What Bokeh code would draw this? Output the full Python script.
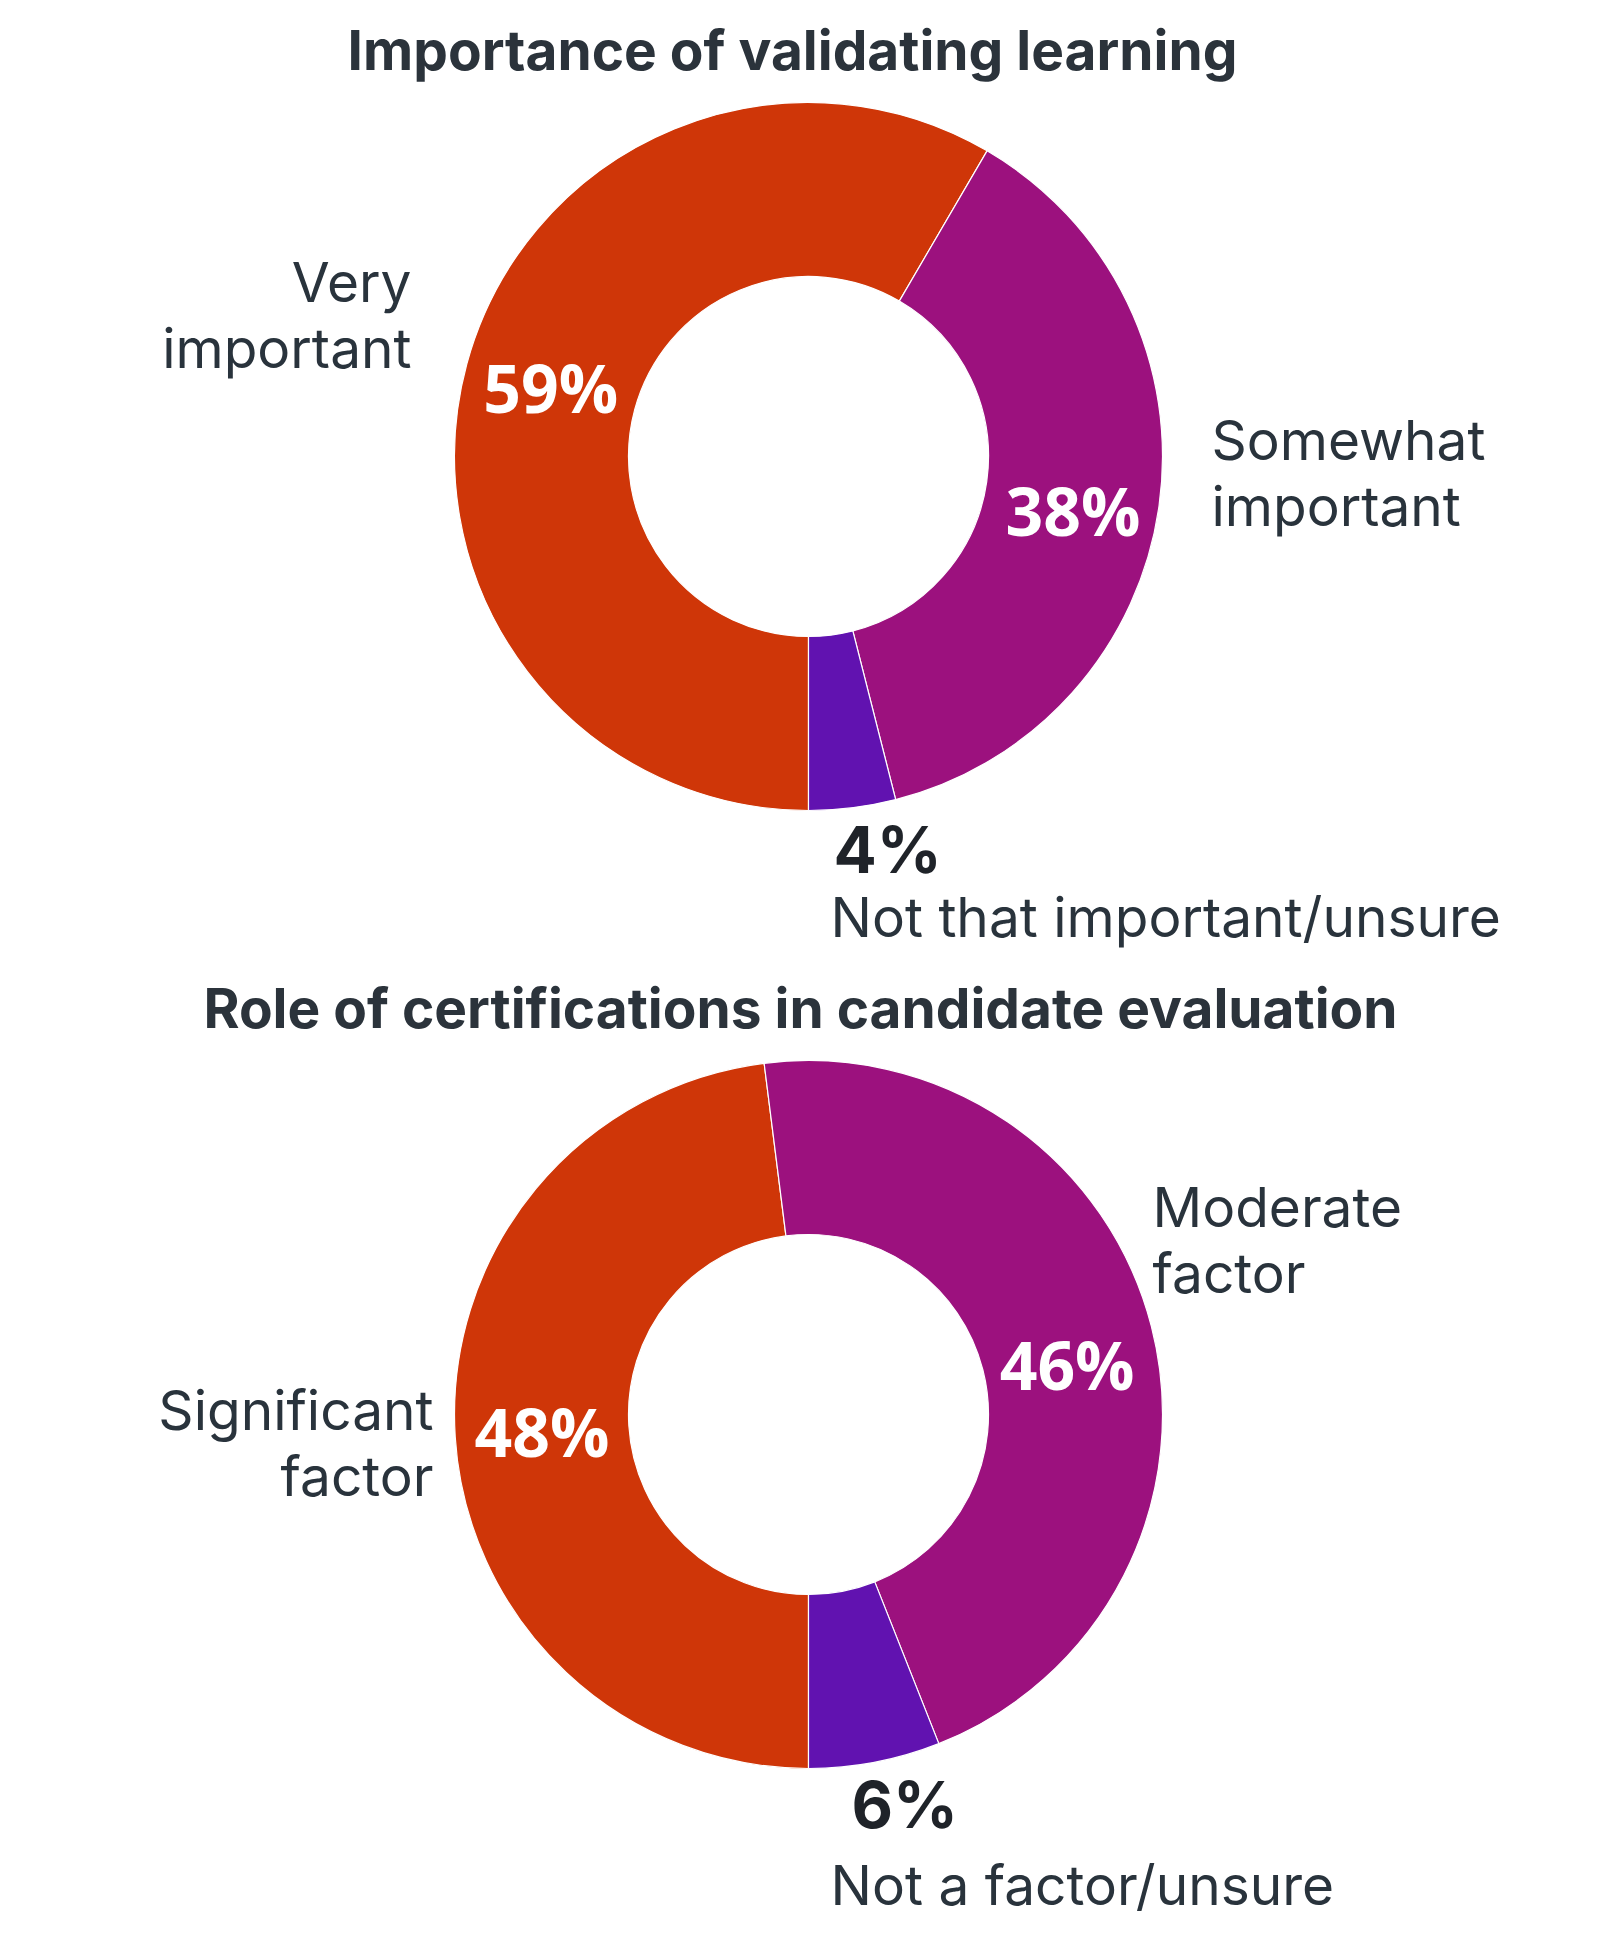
import math
from bokeh.plotting import figure
from bokeh.models import Range1d, ColumnDataSource
from bokeh.core.properties import value
from bokeh.embed import file_html
from bokeh.resources import INLINE

# ---------------- data ----------------
title_1 = "Importance of validating learning"
categories_1 = ["Very important", "Somewhat important", "Not that important/unsure"]
values_1 = [59, 38, 4]

title_2 = "Role of certifications in candidate evaluation"
categories_2 = ["Significant factor", "Moderate factor", "Not a factor/unsure"]
values_2 = [48, 46, 6]

colors = ["#CF3608", "#9C117E", "#6112B0"]

# ---------------- layout ----------------
W, H = 1612, 1951
CX = 808
CY_1, CY_2 = 456, 1414          # screen y of donut centres
R_IN, R_OUT = 180, 354
TITLE_Y = [49, 1007]            # baselines (screen)
TITLE_X = [792, 800]
LINE_H = 66
LABEL_FONT = "Inter"
TEXT_COLOR = "#29333C"
DY = -21                         # baseline correction

# per-category label anchors (screen coords): (x, first baseline, align)
label_anchor_1 = [(411, 302 + DY, "right"), (1211, 460 + DY, "left"), (830, 937 + DY, "left")]
label_anchor_2 = [(433, 1430 + DY, "right"), (1152, 1227 + DY, "left"), (830, 1905 + DY, "left")]
small_pct_anchor_1 = (833, 870 + DY)
small_pct_anchor_2 = (851, 1825 + DY)
inner_label_nudge = [0, 16]       # screen-y nudge for in-wedge labels

p = figure(width=W, height=H, x_range=Range1d(0, W), y_range=Range1d(0, H),
           output_backend="svg", toolbar_location=None, min_border=0)
p.axis.visible = False
p.grid.visible = False
p.outline_line_color = None
p.background_fill_color = "white"
p.border_fill_color = "white"


def sy(y):
    return H - y


def donut(vals, cats, cy_screen, anchors, small_anchor):
    total = float(sum(vals))
    cy = sy(cy_screen)
    starts, ends, mids = [], [], []
    acc = 0.0
    for v in vals:
        t0 = acc / total * 2 * math.pi
        acc += v
        t1 = acc / total * 2 * math.pi
        # clockwise from 6 o'clock
        starts.append(-math.pi / 2 - t1)
        ends.append(-math.pi / 2 - t0)
        mids.append(-math.pi / 2 - (t0 + t1) / 2)
    src = ColumnDataSource(dict(x=[CX] * len(vals), y=[cy] * len(vals),
                                start=starts, end=ends, color=colors[:len(vals)]))
    p.annular_wedge(x="x", y="y", inner_radius=R_IN, outer_radius=R_OUT,
                    start_angle="start", end_angle="end", fill_color="color",
                    line_color="white", line_width=1.2, source=src)

    # in-wedge percentage labels for the two big slices
    rm = (R_IN + R_OUT) / 2
    lx = [CX + rm * math.cos(m) for m in mids[:2]]
    ly = [cy + rm * math.sin(m) - n for m, n in zip(mids[:2], inner_label_nudge)]
    p.text(x=lx, y=ly, text=[f"{v}%" for v in vals[:2]],
           text_font=value("Open Sans"), text_font_style="bold",
           text_font_size="66px", text_color="white",
           text_align="center", text_baseline="middle")

    # small slice percentage, outside
    p.text(x=[small_anchor[0]], y=[sy(small_anchor[1])], text=[f"{vals[2]}%"],
           text_font=value("Inter"), text_font_style="bold",
           text_font_size="64px", text_color="#1F2329",
           text_align="left", text_baseline="alphabetic")

    # category labels
    for cat, (ax, ay, al) in zip(cats, anchors):
        words = cat.split(" ")
        lines = words if len(words) == 2 else [cat]
        p.text(x=[ax] * len(lines), y=[sy(ay + i * LINE_H) for i in range(len(lines))],
               text=lines, text_font=value(LABEL_FONT), text_font_size="55px",
               text_color=TEXT_COLOR, text_align=al, text_baseline="alphabetic")


donut(values_1, categories_1, CY_1, label_anchor_1, small_pct_anchor_1)
donut(values_2, categories_2, CY_2, label_anchor_2, small_pct_anchor_2)

for t, tx, ty in zip([title_1, title_2], TITLE_X, TITLE_Y):
    p.text(x=[tx], y=[sy(ty)], text=[t], text_font=value("Inter"),
           text_font_style="bold", text_font_size="55px", text_color="#2B333B",
           text_align="center", text_baseline="alphabetic")

open("out.html", "w").write(file_html(p, INLINE))
